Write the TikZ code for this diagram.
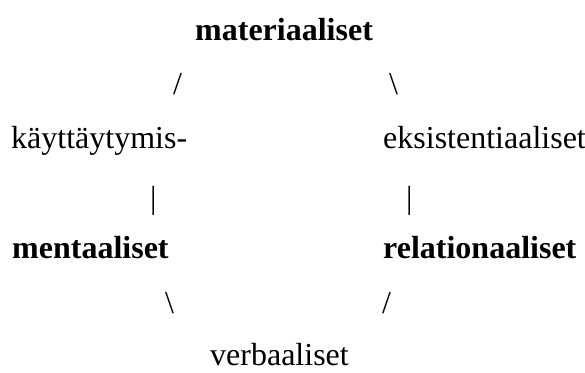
\documentclass[tikz,border=0pt]{standalone}
\usepackage{fontspec}
\setmainfont{Liberation Serif}
\begin{document}
\begin{tikzpicture}[x=1pt,y=-1pt,
    txt/.style={anchor=base west, inner sep=0pt, font=\fontsize{32}{38}\selectfont},
    bold/.style={txt, font=\fontsize{32}{38}\selectfont\bfseries}]
    \useasboundingbox (0,0) rectangle (585,372);

    \node[bold] (mat) at (195,40) {materiaaliset};
    \node[txt] (sl1) at (173,94) {/};
    \node[txt] (sl2) at (389,94) {\textbackslash};

    \node[txt] (kay) at (11,148) {käyttäytymis-};
    \node[txt] (eks) at (383,148) {eksistentiaaliset};
    \node[txt] (vl1) at (150,208) {|};
    \node[txt] (vl2) at (406,208) {|};

    \node[bold] (men) at (12,258) {mentaaliset};
    \node[bold] (rel) at (383,258) {relationaaliset};
    \node[txt] (sl3) at (165,313) {\textbackslash};
    \node[txt] (sl4) at (382,313) {/};

    \node[txt] (ver) at (210,365) {verbaaliset};
  \end{tikzpicture}
\end{document}
